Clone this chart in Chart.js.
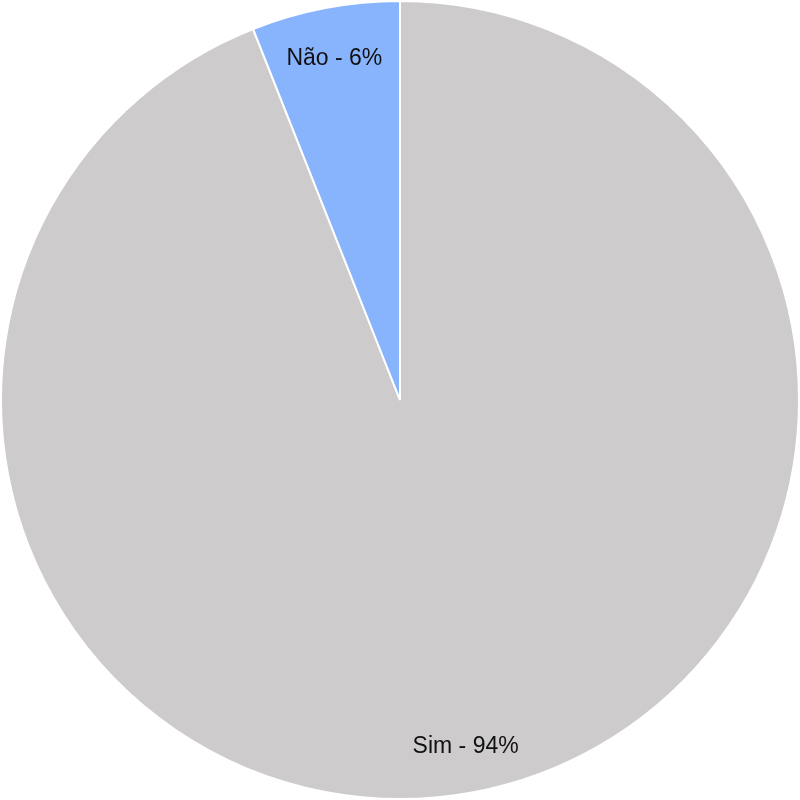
<!DOCTYPE html>
<html>
<head>
<meta charset="utf-8">
<script src="https://cdn.jsdelivr.net/npm/chart.js@4"></script>
<style>
html,body{margin:0;padding:0;background:#fff;}
#wrap{width:800px;height:800px;}
</style>
</head>
<body>
<div id="wrap"><canvas id="c" width="800" height="800"></canvas></div>
<script>
const categories = ["Sim", "Não"];
const values = [94, 6];
const colors = ["#cdcbcc", "#88b4fe"];

const labelPlugin = {
  id: 'sliceLabels',
  afterDatasetsDraw(chart) {
    const ctx = chart.ctx;
    const meta = chart.getDatasetMeta(0);
    ctx.save();
    ctx.font = '23px "Liberation Sans", Arial, sans-serif';
    ctx.fillStyle = '#111111';
    ctx.textAlign = 'center';
    ctx.textBaseline = 'middle';
    meta.data.forEach((arc, i) => {
      const p = arc.getProps(['x','y','startAngle','endAngle','outerRadius'], true);
      const mid = (p.startAngle + p.endAngle) / 2;
      const r = p.outerRadius * 0.878;
      const x = p.x + Math.cos(mid) * r;
      const y = p.y + Math.sin(mid) * r + 3;
      ctx.fillText(categories[i] + ' - ' + values[i] + '%', x, y);
    });
    ctx.restore();
  }
};

new Chart(document.getElementById('c'), {
  type: 'pie',
  data: {
    labels: categories,
    datasets: [{
      data: values,
      backgroundColor: colors,
      borderColor: '#ffffff',
      borderWidth: 2
    }]
  },
  options: {
    responsive: false,
    animation: false,
    layout: { padding: 0 },
    plugins: { legend: { display: false }, tooltip: { enabled: false } }
  },
  plugins: [labelPlugin]
});
</script>
</body>
</html>
